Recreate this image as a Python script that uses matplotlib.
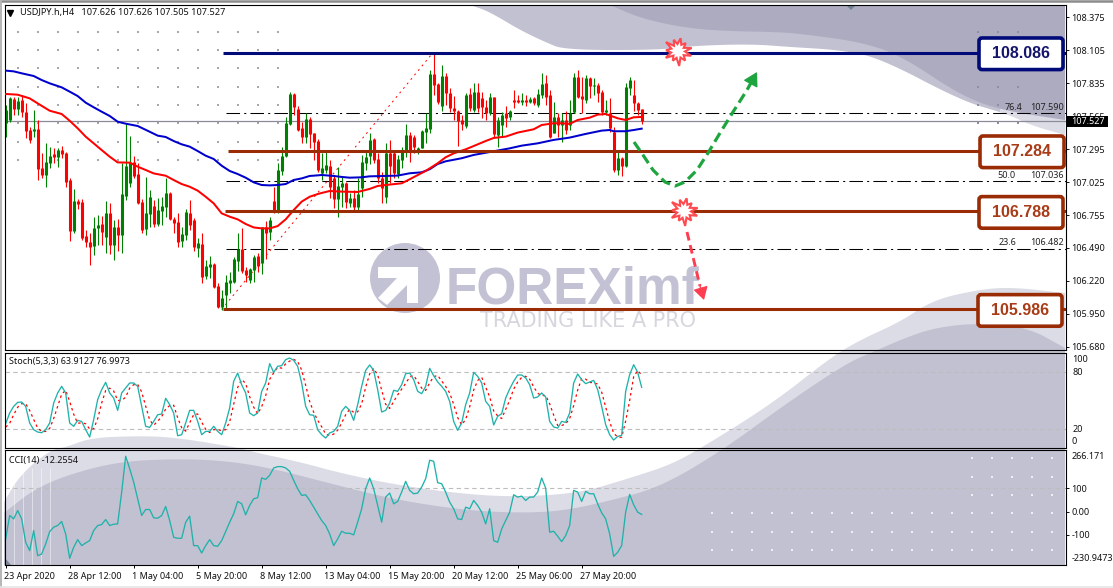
import numpy as np
import matplotlib
matplotlib.use("Agg")
import matplotlib.pyplot as plt
from matplotlib.patches import FancyBboxPatch, Polygon, Rectangle, Circle
from matplotlib.transforms import ScaledTranslation

plt.rcParams['font.family'] = ['Noto Sans', 'DejaVu Sans']

W, H = 1113, 588

# H4 candles, bar 1 .. 160
opens = [107.509,107.536,107.711,107.623,107.70,107.604,107.454,107.446,107.462,107.146,
 107.086,107.187,107.255,107.23,107.29,107.263,107.045,106.628,106.873,106.868,
 106.586,106.54,106.505,106.655,106.685,106.576,106.772,106.513,106.657,106.595,
 106.914,107.017,107.195,107.094,106.865,106.641,106.764,106.832,106.685,106.794,
 106.827,106.941,106.726,106.704,106.546,106.595,106.772,106.717,106.491,106.521,
 106.259,106.336,106.357,106.177,106.003,106.104,106.199,106.213,106.385,106.477,
 106.308,106.226,106.308,106.423,106.363,106.663,106.622,106.873,106.786,107.121,
 107.241,107.503,107.749,107.623,107.47,107.394,107.541,107.427,107.364,107.099,
 107.127,107.163,107.059,106.89,106.985,107.018,106.854,106.895,106.827,106.977,
 107.187,107.242,107.378,107.214,107.059,106.909,107.269,107.263,107.094,107.209,
 107.291,107.413,107.40,107.291,107.304,107.441,107.46,107.913,107.831,107.654,
 107.899,107.76,107.632,107.613,107.536,107.487,107.749,107.618,107.768,107.714,
 107.64,107.591,107.722,107.413,107.495,107.596,107.558,107.697,107.697,107.684,
 107.697,107.681,107.714,107.659,107.741,107.836,107.741,107.432,107.558,107.495,
 107.536,107.495,107.604,107.891,107.733,107.70,107.877,107.815,107.82,107.768,
 107.604,107.596,107.441,107.127,107.223,107.16,107.795,107.741,107.673,107.626]
highs = [107.659,107.727,107.727,107.727,107.74,107.672,107.481,107.618,107.536,107.263,
 107.35,107.318,107.304,107.304,107.326,107.277,107.058,106.968,106.886,106.886,
 106.636,106.608,106.745,106.759,106.75,106.873,106.854,106.717,106.723,107.181,
 107.514,107.405,107.241,107.181,106.887,107.072,106.963,106.881,106.895,106.908,
 107.058,106.949,106.745,106.772,106.663,106.805,106.881,106.731,106.567,106.608,
 106.39,106.423,106.363,106.199,106.145,106.267,106.295,106.417,106.608,106.649,
 106.336,106.322,106.431,106.45,106.663,106.712,106.739,106.99,107.181,107.318,
 107.563,107.762,107.754,107.65,107.522,107.59,107.558,107.432,107.378,107.269,
 107.277,107.209,107.086,107.154,107.073,107.032,106.936,106.963,107.059,107.25,
 107.291,107.427,107.386,107.263,107.113,107.345,107.373,107.277,107.25,107.313,
 107.503,107.441,107.413,107.318,107.454,107.591,107.945,108.082,107.836,107.986,
 107.918,107.795,107.733,107.618,107.577,107.755,107.795,107.842,107.842,107.768,
 107.70,107.755,107.727,107.564,107.604,107.651,107.618,107.782,107.741,107.754,
 107.741,107.722,107.727,107.787,107.918,107.905,107.782,107.686,107.591,107.591,
 107.613,107.70,107.918,107.945,107.891,107.904,107.891,107.877,107.836,107.782,
 107.70,107.714,107.482,107.277,107.236,107.842,107.885,107.864,107.686,107.626]
lows = [107.394,107.522,107.577,107.577,107.563,107.386,107.35,107.40,107.045,107.058,
 106.985,107.14,107.181,107.149,107.222,106.99,106.548,106.608,106.805,106.554,
 106.499,106.349,106.431,106.513,106.513,106.445,106.44,106.39,106.467,106.445,
 106.881,106.99,107.06,106.848,106.608,106.595,106.663,106.658,106.668,106.677,
 106.745,106.717,106.608,106.499,106.499,106.554,106.636,106.467,106.412,106.199,
 106.232,106.24,106.158,105.995,105.981,105.995,106.117,106.199,106.303,106.281,
 106.213,106.205,106.213,106.295,106.275,106.396,106.554,106.772,106.772,107.086,
 107.236,107.495,107.577,107.449,107.345,107.35,107.304,107.209,107.113,107.045,
 107.10,106.895,106.813,106.74,106.827,106.813,106.827,106.794,106.80,106.909,
 107.127,107.176,107.187,107.018,106.854,106.854,107.018,107.059,107.059,107.141,
 107.231,107.195,107.263,107.258,107.304,107.345,107.427,107.741,107.667,107.613,
 107.659,107.604,107.536,107.323,107.454,107.468,107.613,107.604,107.604,107.55,
 107.536,107.577,107.40,107.318,107.40,107.476,107.536,107.632,107.673,107.659,
 107.651,107.673,107.659,107.645,107.714,107.659,107.386,107.427,107.40,107.359,
 107.42,107.454,107.591,107.714,107.591,107.673,107.714,107.741,107.686,107.577,
 107.577,107.441,107.113,107.086,107.078,107.154,107.741,107.61,107.577,107.505]
closes = [107.618,107.719,107.623,107.692,107.604,107.449,107.372,107.462,107.135,107.086,
 107.19,107.244,107.236,107.29,107.255,107.031,106.628,106.873,106.849,106.567,
 106.54,106.499,106.649,106.677,106.622,106.772,106.513,106.657,106.595,106.93,
 107.16,107.195,107.078,106.854,106.636,106.772,106.903,106.685,106.799,106.832,
 106.941,106.723,106.696,106.54,106.603,106.786,106.677,106.499,106.527,106.254,
 106.341,106.357,106.172,106.003,106.076,106.207,106.226,106.396,106.477,106.303,
 106.267,106.314,106.417,106.341,106.658,106.608,106.717,106.786,107.127,107.241,
 107.509,107.749,107.645,107.454,107.40,107.547,107.421,107.359,107.127,107.14,
 107.168,106.991,106.89,106.996,107.018,106.868,106.895,106.822,106.931,107.195,
 107.236,107.373,107.209,107.059,106.977,107.269,107.16,107.10,107.214,107.277,
 107.413,107.291,107.313,107.304,107.449,107.468,107.91,107.823,107.686,107.896,
 107.755,107.632,107.613,107.528,107.503,107.741,107.632,107.763,107.632,107.64,
 107.591,107.722,107.422,107.536,107.577,107.55,107.61,107.686,107.684,107.697,
 107.684,107.705,107.673,107.746,107.831,107.722,107.394,107.558,107.495,107.536,
 107.454,107.596,107.891,107.727,107.705,107.877,107.815,107.82,107.755,107.604,
 107.618,107.468,107.127,107.223,107.16,107.809,107.864,107.673,107.618,107.527]

blue_ma_bars = [1,3,5,8,10,12,15,17,19,21,23,25,27,29,31,34,37,39,41,43,45,47,49,51,53,55,57,59,61,63,65,67,69,71,73,75,77,79,
 80,83,85,87,90,92,96,99,102,105,107,109,111,115,118,122,127,130,134,138,142,146,150,152,153,156,158,160]
blue_ma = [107.940,107.934,107.918,107.896,107.863,107.836,107.803,107.768,107.732,107.678,107.640,107.604,107.569,107.522,107.506,107.487,
 107.440,107.408,107.397,107.364,107.337,107.318,107.282,107.244,107.217,107.162,107.119,107.094,107.064,107.026,107.004,107.001,107.004,107.012,
 107.045,107.058,107.078,107.083,107.086,107.078,107.070,107.064,107.067,107.075,107.078,107.081,107.100,107.108,107.133,107.176,107.198,107.223,
 107.250,107.274,107.304,107.326,107.345,107.373,107.392,107.422,107.449,107.454,107.444,107.444,107.454,107.465]
red_ma_bars = [1,4,7,9,12,15,17,19,21,23,25,27,29,32,34,36,38,41,43,45,47,49,51,53,55,57,59,61,63,65,67,69,71,73,75,77,79,
 80,82,85,89,92,94,96,100,102,106,109,111,113,116,118,121,123,126,129,133,135,138,140,142,144,147,149,151,154,156,158,160]
red_ma = [107.749,107.743,107.713,107.672,107.612,107.585,107.530,107.468,107.400,107.345,107.290,107.236,107.189,107.187,107.154,107.127,107.099,
 107.080,107.045,107.012,106.990,106.958,106.908,106.854,106.772,106.745,106.723,106.685,106.657,106.649,106.649,106.668,106.723,106.799,106.868,
 106.908,106.930,106.939,106.955,106.950,106.947,106.972,106.996,107.004,107.018,107.051,107.119,107.182,107.231,107.263,107.296,107.323,107.364,
 107.389,107.400,107.433,107.460,107.495,107.509,107.509,107.504,107.536,107.555,107.580,107.585,107.550,107.536,107.558,107.561]

stoch_k = [25.6,36.8,43.8,48,48.4,43.8,26.3,19.3,16.8,16.1,19.3,26.3,47.3,57.9,64.9,57.9,26.3,22.8,29.1,28,
 19.3,11.5,29.8,50.9,61.4,69.1,57.9,52.6,39.6,57.9,63.1,68.4,68.4,64.9,43.8,22.8,21.7,28,35,35.8,
 52.3,45.6,36.8,12.9,14,26.3,39.6,39.6,28,14,17.5,17.5,22.8,17.5,14,26.3,42.1,70.2,78.9,66.6,
 57.9,36.8,34,36.8,59.6,68.4,88.8,79.6,86,86.7,93,94.7,92.3,86,68.4,43.8,35,34.4,19.3,14,10.5,15.8,
 17.5,22.8,38.6,43.8,39.6,29.1,45.6,64.9,81.7,87.4,81.7,61.4,37.9,39.6,47.3,60.7,59.6,66.6,78.2,78.9,
 71.9,59.6,57.2,64.9,83.8,76.1,69.5,64.9,59.6,49.1,28,18.6,26.3,45.6,57.9,79.6,75.4,68.4,49.1,43.8,
 24.2,33.3,36.1,52.6,62.1,70.2,76.8,76.8,73.7,66.6,52.6,53.7,57.9,53.7,28,22.1,21,28,27,36.8,
 68.4,77.9,71.9,67.7,69.5,71.2,61.4,43.8,24.5,14,8.4,12.2,13.3,59.6,77.2,87.7,79.6,63.9]
stoch_d = [22,26,35,42.9,46.7,46.7,39.5,30,21,17.4,17.4,20.6,31,43.8,56.7,60.7,49,35.6,26,26.6,
 25.5,20,20.2,30.7,47.4,60.5,63,60,50,50,53.5,63,66.6,67,59,44,29.5,24,28.2,33,
 41,44.6,45,31.8,21.3,17.7,26.6,35,35.8,27.2,19.8,16.3,19.3,19.3,18.4,19.3,27.5,46,63.7,72,
 68,54,43,36,43.5,55,72.3,79,85,84,88.6,91.5,93.3,91,82,66,49,37.7,29.2,22.4,14.6,13.2,
 14.6,18.7,26.4,35,40.7,37.5,38.1,46.5,64,78,83.7,77,60.9,46,41.6,49,55.9,62,68,74.6,
 76.3,70,63,60.6,68.6,75,76.4,70.5,64.7,57.9,46,32,24.3,30.2,43.3,61,71,74.5,64,53.8,
 39,33.8,31,40.7,50.3,62,69.4,74.3,75.5,72.4,64.3,57.7,55,55.4,46.5,34.6,23.7,23.7,25.3,31,
 44.6,61,73,72.5,69,68.7,67.3,58.8,43,27.5,15.6,11.5,11.3,28.4,50,75,81.5,77]
cci = [-118.3,-17,-31.5,4.7,-31.5,-132.8,-168.9,-82.1,-190.6,-183.4,-140,-86.5,-67.6,-60.4,-43,-96.6,-202.2,-154.5,-121.2,-147.2,
 -135.7,-125.5,-82.1,-60.4,-56,-34.4,-60.4,-54.6,-53.2,84.3,239.1,185.6,127.7,55.4,-17,9,9,-27.1,-28.6,-17,
 22.1,-38.7,-111.1,-115.4,-115.4,-46,-19.9,-147.2,-147.2,-179.1,-147.2,-121.2,-147.2,-150.1,-125.5,-86.5,-46,-9.8,43.8,33.6,
 -14.1,26.4,55.4,59.7,145.1,139.3,156.6,188.5,194.3,194.3,188.5,174,134.9,98.8,69.8,72.7,48.1,19.2,-9.8,-38.7,-60.4,-96.6,
 -147.2,-118.3,-85,-93.7,-93.7,-100.9,-46,12,98.8,145.1,98.8,26.4,-46,62.6,80,33.6,43.8,84.3,130.6,91.5,
 77,80,106,142.2,221.8,217.4,124.8,120.5,84.3,40.9,12,-31.5,-34.4,19.2,12,48.1,26.4,-2.5,-53.2,12,
 -125.5,-132.8,-74.9,-38.7,-2.5,72.7,62.6,66.9,48.1,62.6,62.6,84.3,145.1,101.7,-89.4,-85,-106.7,-129.9,-103.8,-60.4,
 91.5,84.3,43.8,87.2,77,77,33.6,-5.4,-31.5,-96.6,-193.6,-176.2,-147.2,-2.5,74.2,29.3,-2.5,-12.3]

price_ticks = [108.375,108.105,107.835,107.565,107.295,107.025,106.755,106.490,106.220,105.950,105.680]
time_labels = ['23 Apr 2020','28 Apr 12:00','1 May 04:00','5 May 20:00','8 May 12:00','13 May 04:00',
               '15 May 20:00','20 May 12:00','25 May 06:00','27 May 20:00']
time_bars = [1,17,33,49,65,81,97,113,129,145]

level_values = [108.086,107.284,106.788,105.986]
level_names = ['108.086','107.284','106.788','105.986']
level_colors = ['#000a78','#9a2c05','#9a2c05','#9a2c05']
level_text_colors = ['#15156e','#a83c18','#a83c18','#a83c18']
fib_levels = [107.590,107.036,106.482]
fib_names = ['76.4','50.0','23.6']

PRICE_TOP, PRICE_BOTTOM = 108.481, 105.654
L, R = 4.5, 1065.5

def bar_at(px):
    return (px - 5.67) / 4 + 1

def price_px(p):
    return 4.5 + (PRICE_TOP - p) / (PRICE_TOP - PRICE_BOTTOM) * 345.5

def rounded(pts, rounds=3):
    # corner cutting so the watermark edges come out soft
    pts = np.array(pts, dtype=float)
    for _ in range(rounds):
        a, b = pts[:-1], pts[1:]
        mid = np.empty((len(a) * 2, 2))
        mid[0::2] = 0.75 * a + 0.25 * b
        mid[1::2] = 0.25 * a + 0.75 * b
        pts = np.vstack([pts[0], mid, pts[-1]])
    return pts

def blob(edge, closing, color):
    bg.add_patch(Polygon(np.vstack([rounded(edge), closing]), fc=color, ec='none'))

def panel(top, bottom):
    ax = fig.add_axes([L / W, 1 - bottom / H, (R - L) / W, (bottom - top) / H], facecolor='none')
    ax.set_xlim(bar_at(L), bar_at(R))
    ax.yaxis.tick_right()
    ax.set_xticks([])
    for s in ax.spines.values():
        s.set_linewidth(0.8)
        s.set_color('black')
    ax.tick_params(axis='y', length=2.2, width=0.7, labelsize=6.5, pad=2, colors='#111111')
    return ax

fig = plt.figure(figsize=(W / 100, H / 100), dpi=100, facecolor='white')

# background layer, in picture pixels: watermark shapes, dots, logo
bg = fig.add_axes([0, 0, 1, 1], zorder=0)
bg.set_xlim(0, W)
bg.set_ylim(H, 0)
bg.axis('off')

DARK, MID, LIGHT = '#adabc0', '#c2c1d1', '#dcdce6'
blob([(4,502),(20,475),(50,450),(67,447),(90,438),(133,436),(173,437),(240,448),(253,452),(300,462),(340,473),
      (397,485),(463,494),(517,497),(580,493),(630,478),(670,465),(703,447),(773,403),(830,358),(860,340),
      (900,322),(933,300),(977,290),(1010,287),(1065,293)], [(1065,565),(4,565)], LIGHT)
blob([(4,513),(33,490),(67,475),(117,462),(167,459),(217,460),(267,467),(340,486),(397,500),(463,510),(517,513),
      (563,511),(613,500),(660,487),(720,452),(787,403),(847,363),(873,352),(900,340),(933,328),(977,323),
      (1027,327),(1065,348)], [(1065,565),(4,565)], MID)
blob([(880,58),(900,65),(960,100),(1010,115),(1030,125),(1065,135)], [(1065,5),(880,5)], LIGHT)
blob([(470,5),(485,10),(500,18),(520,30),(545,42),(565,50),(660,50),(690,46),(750,44),(790,47),(840,50),(880,58),
      (960,100),(1000,112)], [(1000,5)], MID)
blob([(610,5),(640,18),(680,27),(720,31),(780,32),(810,35),(860,42),(900,55),(960,95),(1000,110),(1065,120)],
     [(1065,5)], DARK)
bg.add_patch(Polygon([(846,5),(851,10),(856,5)], fc='#728292', ec='none'))
bg.add_patch(Polygon([(5,558),(5,565),(11,565)], fc='#7f8899', ec='none'))

# dot grids
gx, gy = np.meshgrid(18.3 + 20 * np.arange(14), 31.7 + 18.3 * np.arange(8))
bg.plot(gx.ravel(), gy.ravel(), ls='none', marker='s', ms=1.5, mew=0, color='#a6a6ae')
gx, gy = np.meshgrid([978, 998, 1018], [31.7, 86.7, 105, 123])
bg.plot(gx.ravel(), gy.ravel(), ls='none', marker='s', ms=1.5, mew=0, color='#8f8ea2')
gx, gy = np.meshgrid(711.7 + 20 * np.arange(18), [513.3, 531.7, 550])
bg.plot(gx.ravel(), gy.ravel(), ls='none', marker='s', ms=1.6, mew=0, color='#eeeef4')
gx, gy = np.meshgrid(971.7 + 20 * np.arange(5), [458.3, 476.7, 495])
bg.plot(gx.ravel(), gy.ravel(), ls='none', marker='s', ms=1.6, mew=0, color='#eeeef4')
bg.vlines([14.3, 23.3, 32.3, 41.3, 50.3], 468, 565, color='white', lw=0.6, alpha=0.55)

# logo
logo_c = '#c3c2d4'
bg.add_patch(Circle((405, 278), 35, fc=logo_c, ec='none'))
bg.add_patch(Polygon([(378,267),(418,267),(418,303),(407,303),(407,285),(387,305),(378,298),(397,278),(378,278)], fc='white', ec='none'))
bg.text(446, 303, 'FOREXimf', family='Liberation Sans', weight='bold', fontsize=37, color=logo_c, va='baseline', ha='left')
bg.text(480, 327, 'TRADING LIKE A PRO', family='DejaVu Sans', fontsize=15, color='#d6d6df', va='baseline', ha='left')

# main price panel
ax = panel(4.5, 350)
ax.set_ylim(PRICE_BOTTOM, PRICE_TOP)
bars = np.arange(1, len(opens) + 1)
o, h, l, c = map(np.array, (opens, highs, lows, closes))
up = c >= o
colors = np.where(up, '#008000', '#ff0000')
ax.axhline(closes[-1], color='#8b8b99', lw=0.9, zorder=1)
for p in fib_levels:
    ax.plot([bar_at(226), bar_at(R)], [p, p], color='black', lw=0.75, ls=(0, (13, 4, 2, 4)), zorder=1.5)
ax.vlines(bars, l, h, colors=colors, lw=0.8, zorder=2)
ax.vlines(bars, np.minimum(o, c), np.maximum(o, c), colors=colors, lw=2.2, zorder=2.5)
ax.plot(blue_ma_bars, blue_ma, color='#0000cd', lw=1.45, zorder=3)
ax.plot(red_ma_bars, red_ma, color='#ff0000', lw=1.45, zorder=3.2)
ax.plot([55, 107.8], [105.986, 108.086], color='#ff0000', lw=0.7, ls=(0, (2, 4)), zorder=1.8)
starts = [223, 228, 225, 223]
for p, col, st_px in zip(level_values, level_colors, starts):
    ax.plot([bar_at(st_px), bar_at(R)], [p, p], color=col, lw=2.2, solid_capstyle='butt', zorder=4)
for p, nm in zip(fib_levels, fib_names):
    ax.text(bar_at(1016 if nm != '76.4' else 1022), p + 0.012, nm, ha='right', va='bottom', fontsize=6.5, color='#222222', zorder=5)
    ax.text(bar_at(1064), p + 0.012, f'{p:.3f}', ha='right', va='bottom', fontsize=6.5, color='#222222', zorder=5)
ax.set_yticks(price_ticks)
ax.set_yticklabels([f'{t:.3f}' for t in price_ticks])

# stochastic
st = panel(352.5, 448)
st.set_ylim(0, 100.5)
st.axhline(80, color='#bdbdbd', lw=0.8, ls=(0, (4, 3)))
st.axhline(20, color='#bdbdbd', lw=0.8, ls=(0, (4, 3)))
st.plot(bars, stoch_d, color='#ff0000', lw=0.9, ls=(0, (2, 2.5)))
st.plot(bars, stoch_k, color='#20b2aa', lw=0.95)
st.set_yticks([80, 20])
st.set_yticklabels(['80', '20'])
st.tick_params(axis='y', length=0, pad=5)
st.text(1.006, 0.93, '100', transform=st.transAxes, fontsize=6.5, color='#111111', va='center', ha='left')
st.text(1.006, 0.068, '0', transform=st.transAxes, fontsize=6.5, color='#111111', va='center', ha='left')

# cci
cc = panel(450, 565)
cc.set_ylim(-230.9473, 266.171)
cc.axhline(100, color='#bdbdbd', lw=0.8, ls=(0, (4, 3)))
cc.plot(bars, cci, color='#20b2aa', lw=0.95)
cc.set_yticks([100, 0, -100])
cc.set_yticklabels(['100', '0.00', '-100'])
cc.text(1.006, 0.945, '266.171', transform=cc.transAxes, fontsize=6.5, color='#111111', va='center', ha='left')
cc.text(1.006, 0.06, '-230.9473', transform=cc.transAxes, fontsize=6.5, color='#111111', va='center', ha='left')
cc.set_xticks(time_bars)
cc.set_xticklabels(time_labels, ha='left', fontsize=6.5, color='#111111')
cc.tick_params(axis='x', length=2.2, width=0.7, pad=2.5)
nudge = ScaledTranslation(-1.5 / 100, 0, fig.dpi_scale_trans)
for lbl in cc.get_xticklabels():
    lbl.set_transform(lbl.get_transform() + nudge)

# overlay in picture pixels: labels, boxes, drawn arrows
ov = fig.add_axes([0, 0, 1, 1], zorder=10, facecolor='none')
ov.set_xlim(0, W)
ov.set_ylim(H, 0)
ov.axis('off')
ov.plot([0, 1113], [1, 1], color='#8c8c8c', lw=1.8)
ov.plot([1, 1], [0, 588], color='#b5b5b5', lw=1.4)
ov.plot([0, 1113], [586.5, 586.5], color='#e4e4e4', lw=1.2)

ov.plot([9.5], [12.5], ls='none', marker='v', ms=4.2, color='black')
ov.text(20, 12.5, 'USDJPY.h,H4   107.626 107.626 107.505 107.527', fontsize=6.6, color='#111111', va='center')
ov.text(9, 361.5, 'Stoch(5,3,3) 63.9127 76.9973', fontsize=6.5, color='#111111', va='center')
ov.text(9, 460, 'CCI(14) -12.2554', fontsize=6.5, color='#111111', va='center')

ov.add_patch(Rectangle((1067, 116), 41, 11, fc='black', ec='none'))
ov.text(1071, 121.5, f'{closes[-1]:.3f}', color='white', fontsize=6.5, va='center')

box_left = [979, 980, 979, 978]
for p, nm, col, tc, x0 in zip(level_values, level_names, level_colors, level_text_colors, box_left):
    yc = price_px(p) + 1
    ov.add_patch(FancyBboxPatch((x0, yc - 15.8), 84, 31.6, boxstyle='round,pad=0,rounding_size=3',
                                fc='white', ec=col, lw=2.6))
    ov.text(x0 + 42, yc, nm, family='Liberation Sans', weight='bold', fontsize=11.5, color=tc, ha='center', va='center')

gcurve_x = [634,643,653,665,675,685,697,708,720,733,747,752]
gcurve_y = [142,155,170,182,186,182,170,153,133,112,90,81]
ov.plot(gcurve_x, gcurve_y, color='#1fa53f', lw=2.3, ls=(0, (3.2, 1.6)))
ov.annotate('', xy=(757, 72), xytext=(750, 85),
            arrowprops=dict(arrowstyle='-|>,head_width=0.35,head_length=0.6', color='#1fa53f', lw=1, mutation_scale=14, shrinkA=0, shrinkB=0))
ov.plot([687, 700], [232, 286], color='#ff3d50', lw=2.1, ls=(0, (3, 1.6)))
ov.annotate('', xy=(704, 300), xytext=(700, 286),
            arrowprops=dict(arrowstyle='-|>,head_width=0.32,head_length=0.55', color='#ff3d50', lw=1, mutation_scale=14, shrinkA=0, shrinkB=0))

# the two burst marks, uneven spikes
spikes = np.array([14, 7, 12, 7, 15, 7, 11, 6.5, 14, 7, 12, 7, 15, 6.5, 12, 7, 13, 7, 11, 6.5, 14, 7])
angles = np.linspace(0, 2 * np.pi, len(spikes), endpoint=False) + 0.35
for cx, cy in [(678, 51), (684, 211)]:
    ov.add_patch(Polygon(np.column_stack([cx + spikes * np.cos(angles), cy + spikes * np.sin(angles)]),
                         fc='white', ec='#ff4a50', lw=1.5))

fig.savefig('out.png', dpi=100)
